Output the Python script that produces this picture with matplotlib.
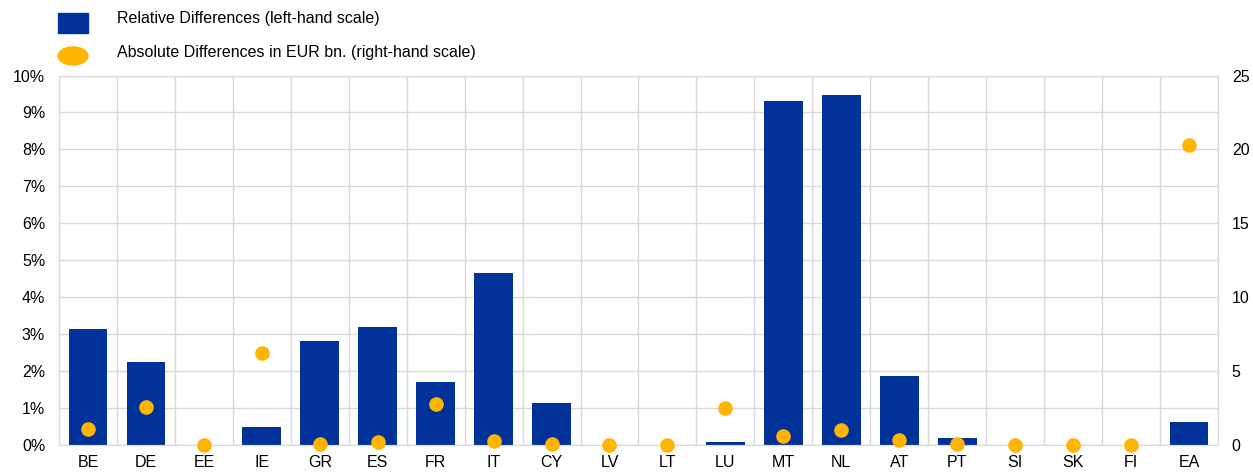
import numpy as np
import matplotlib.pyplot as plt
from matplotlib.patches import Rectangle, Ellipse
from matplotlib.ticker import FuncFormatter

plt.rcParams['font.family'] = ['Liberation Sans', 'DejaVu Sans']

countries = ['BE', 'DE', 'EE', 'IE', 'GR', 'ES', 'FR', 'IT', 'CY', 'LV',
             'LT', 'LU', 'MT', 'NL', 'AT', 'PT', 'SI', 'SK', 'FI', 'EA']
# relative differences, % (left-hand scale)
rel_diff = [3.14, 2.25, 0.0, 0.50, 2.82, 3.20, 1.70, 4.65, 1.13, 0.0,
            0.0, 0.08, 9.31, 9.47, 1.87, 0.19, 0.0, 0.0, 0.0, 0.62]
# absolute differences, EUR bn (right-hand scale)
abs_diff = [1.08, 2.55, 0.0, 6.2, 0.07, 0.22, 2.75, 0.25, 0.09, 0.0,
            0.0, 2.48, 0.59, 1.04, 0.36, 0.05, 0.0, 0.0, 0.0, 20.3]

blue = '#003299'
yellow = '#FFB400'
grid_col = '#d9d9d9'

fig = plt.figure(figsize=(12.53, 4.72), dpi=100)
ax = fig.add_axes([0.0471, 0.0572, 0.9249, 0.7828])
ax2 = ax.twinx()

x = np.arange(len(countries))
ax.bar(x, rel_diff, width=0.67, color=blue, zorder=2)
ax2.scatter(x, abs_diff, s=90, color=yellow, zorder=3, clip_on=False)

ax.set_xlim(-0.5, len(countries) - 0.5)
ax.set_ylim(0, 10)
ax2.set_ylim(0, 25)
ax.set_yticks(np.arange(0, 11, 1))
ax.yaxis.set_major_formatter(FuncFormatter(lambda v, p: f'{v:.0f}%'))
ax2.set_yticks(np.arange(0, 26, 5))

ax.set_xticks(x)
ax.set_xticklabels(countries)
ax.set_xticks(np.arange(-0.5, len(countries), 1), minor=True)
ax.grid(True, which='minor', axis='x', color=grid_col, lw=1, zorder=0)
ax.grid(True, which='major', axis='y', color=grid_col, lw=1, zorder=0)
ax.set_axisbelow(True)

for a in (ax, ax2):
    for s in a.spines.values():
        s.set_color(grid_col)
    a.tick_params(which='both', length=0, labelsize=11.5, colors='#000000')
ax.tick_params(axis='y', pad=10)
ax2.tick_params(axis='y', pad=10)
ax.tick_params(axis='x', pad=7)

ax2.set_zorder(ax.get_zorder() + 1)
ax2.patch.set_visible(False)

# legend drawn at the top
fig.patches.append(Rectangle((58 / 1253, 1 - 33 / 472), 30 / 1253, 20 / 472,
                             transform=fig.transFigure, color=blue))
fig.patches.append(Ellipse((73 / 1253, 1 - 56 / 472), 30 / 1253, 18 / 472,
                           transform=fig.transFigure, color=yellow))
fig.text(117 / 1253, 1 - 19 / 472, 'Relative Differences (left-hand scale)',
         fontsize=11.5, va='center', ha='left')
fig.text(117 / 1253, 1 - 52 / 472, 'Absolute Differences in EUR bn. (right-hand scale)',
         fontsize=11.5, va='center', ha='left')

fig.savefig('out.png', dpi=100)
